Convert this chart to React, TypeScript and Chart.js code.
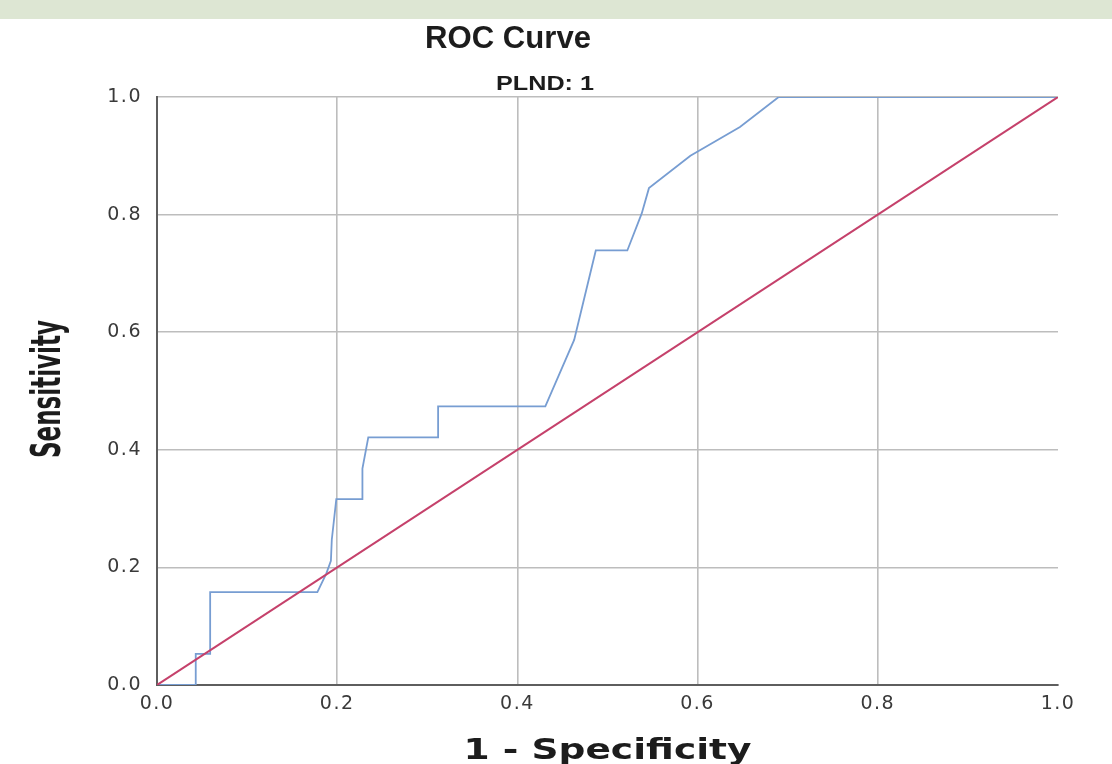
import { useEffect, useRef } from "react";
import { Chart, registerables } from "chart.js";

Chart.register(...registerables);

// ROC curve points (1 - specificity, sensitivity)
const fprValues = [
  0, 0.043, 0.043, 0.059, 0.059, 0.178, 0.188, 0.193, 0.194, 0.199, 0.228, 0.228,
  0.2345, 0.312, 0.312, 0.431, 0.463, 0.487, 0.522, 0.538, 0.546, 0.592, 0.603,
  0.647, 0.69, 1.0,
];
const tprValues = [
  0, 0, 0.053, 0.053, 0.158, 0.158, 0.19, 0.211, 0.247, 0.316, 0.316, 0.368,
  0.421, 0.421, 0.474, 0.474, 0.587, 0.739, 0.739, 0.802, 0.845, 0.9, 0.91,
  0.949, 1.0, 1.0,
];
// Reference (chance) line
const refX = [0, 1];
const refY = [0, 1];

const xTickValues = [0, 0.2, 0.4, 0.6, 0.8, 1.0];
const yTickValues = [0, 0.2, 0.4, 0.6, 0.8, 1.0];

const chartTitle = "ROC Curve";
const chartSubtitle = "PLND: 1";
const xAxisTitle = "1 - Specificity";
const yAxisTitle = "Sensitivity";

const NARROW = '"Liberation Sans Narrow", "Arial Narrow", "DejaVu Sans Condensed", sans-serif';
const SANS = '"Liberation Sans", Arial, sans-serif';
const WIDE = '"DejaVu Sans", Verdana, sans-serif';

function drawStretched(
  ctx: CanvasRenderingContext2D,
  text: string,
  x: number,
  y: number,
  font: string,
  targetW: number,
  color: string,
  rotated = false,
  cross = 1
) {
  ctx.save();
  (ctx as any).letterSpacing = "0px";
  ctx.font = font;
  ctx.fillStyle = color;
  ctx.textAlign = "center";
  ctx.textBaseline = "alphabetic";
  const w = ctx.measureText(text).width || 1;
  const sx = targetW / w;
  ctx.translate(x, y);
  if (rotated) ctx.rotate(-Math.PI / 2);
  ctx.scale(sx, cross);
  ctx.fillText(text, 0, 0);
  ctx.restore();
}

const decorPlugin = {
  id: "decor",
  beforeDraw(chart: any) {
    const ctx: CanvasRenderingContext2D = chart.ctx;
    ctx.save();
    ctx.fillStyle = "#ffffff";
    ctx.fillRect(0, 0, chart.width, chart.height);
    ctx.fillStyle = "#dde6d3";
    ctx.fillRect(0, 0, chart.width, 19);
    ctx.restore();
    (ctx as any).letterSpacing = "1.5px";
  },
  afterDraw(chart: any) {
    const ctx: CanvasRenderingContext2D = chart.ctx;
    (ctx as any).letterSpacing = "0px";
    const area = chart.chartArea;
    drawStretched(ctx, chartTitle, 508, 48, `bold 30px ${SANS}`, 166, "#1c1c1c", false, 1.05);
    drawStretched(ctx, chartSubtitle, 545, 90, `bold 20px ${SANS}`, 98, "#1c1c1c");
    drawStretched(ctx, yAxisTitle, 60, 389, `bold 32px ${NARROW}`, 138, "#1c1c1c", true, 1.3);
    drawStretched(
      ctx,
      xAxisTitle,
      (area.left + area.right) / 2,
      759,
      `bold 29px ${WIDE}`,
      288,
      "#1c1c1c"
    );
  },
};

export default function App() {
  const canvasRef = useRef<HTMLCanvasElement | null>(null);

  useEffect(() => {
    document.body.style.margin = "0";
    const canvas = canvasRef.current;
    if (!canvas) return;

    const curve = fprValues.map((x, i) => ({ x, y: tprValues[i] }));
    const diag = refX.map((x, i) => ({ x, y: refY[i] }));
    const gridColor = "#bdbdbd";

    const chart = new Chart(canvas, {
      type: "scatter",
      data: {
        datasets: [
          {
            label: "Reference Line",
            data: diag,
            showLine: true,
            borderColor: "#c5416b",
            borderWidth: 2,
            pointRadius: 0,
            order: 0,
          },
          {
            label: "PLND: 1",
            data: curve,
            showLine: true,
            borderColor: "#779dd2",
            borderWidth: 1.8,
            pointRadius: 0,
            tension: 0,
            order: 1,
          },
        ],
      },
      options: {
        responsive: false,
        animation: false,
        devicePixelRatio: 1,
        layout: { padding: { top: 97, left: 0, right: 54, bottom: 0 } },
        plugins: {
          legend: { display: false },
          tooltip: { enabled: false },
          title: { display: false },
        },
        scales: {
          x: {
            type: "linear",
            min: 0,
            max: 1,
            afterFit: (s: any) => {
              s.height = 79;
            },
            afterBuildTicks: (s: any) => {
              s.ticks = xTickValues.map((v) => ({ value: v }));
            },
            grid: {
              drawTicks: false,
              lineWidth: 1.6,
              color: (c: any) =>
                c.tick && Math.abs(c.tick.value - 1) < 1e-6 ? "rgba(0,0,0,0)" : gridColor,
            },
            border: { display: true, color: "#5e5e5e", width: 2 },
            ticks: {
              padding: 8,
              color: "#3a3a3a",
              font: { family: WIDE, size: 19 },
              callback: (v: any) => Number(v).toFixed(1),
              maxRotation: 0,
              autoSkip: false,
            },
          },
          y: {
            type: "linear",
            min: 0,
            max: 1,
            afterFit: (s: any) => {
              s.width = 157;
            },
            afterBuildTicks: (s: any) => {
              s.ticks = yTickValues.map((v) => ({ value: v }));
            },
            grid: {
              drawTicks: false,
              lineWidth: 1.6,
              color: gridColor,
            },
            border: { display: true, color: "#5e5e5e", width: 2 },
            ticks: {
              padding: 15,
              color: "#3a3a3a",
              font: { family: WIDE, size: 19 },
              callback: (v: any) => Number(v).toFixed(1),
              autoSkip: false,
            },
          },
        },
      },
      plugins: [decorPlugin],
    });

    return () => {
      chart.destroy();
    };
  }, []);

  return (
    <canvas
      ref={canvasRef}
      width={1112}
      height={764}
      style={{ display: "block", width: 1112, height: 764 }}
    />
  );
}
